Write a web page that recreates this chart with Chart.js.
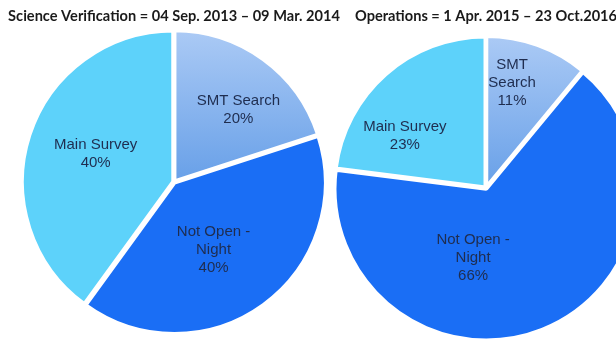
<!DOCTYPE html>
<html>
<head>
<meta charset="utf-8">
<script src="https://cdn.jsdelivr.net/npm/chart.js@4/dist/chart.umd.min.js"></script>
<style>
  html, body { margin: 0; padding: 0; background: #fff; }
  body { width: 616px; height: 341px; overflow: hidden; position: relative; }
  .pie { position: absolute; top: 0; width: 340px; height: 370px; }
  #leftWrap { left: 4px; }
  #rightWrap { left: 316px; }
</style>
</head>
<body>
<div class="pie" id="leftWrap"><canvas id="leftPie"></canvas></div>
<div class="pie" id="rightWrap"><canvas id="rightPie"></canvas></div>
<script>
// slices go clockwise from 12 o'clock
const categories = ["SMT Search", "Not Open - Night", "Main Survey"];

const svTitle = "Science Verification = 04 Sep. 2013 \u2013 09 Mar. 2014";
const svValues = [20, 40, 40];
const svLabels = [["SMT Search"], ["Not Open -", "Night"], ["Main Survey"]];

const opsTitle = "Operations = 1 Apr. 2015 \u2013 23 Oct.2016";
const opsValues = [11, 66, 23];
const opsLabels = [["SMT", "Search"], ["Not Open -", "Night"], ["Main Survey"]];

// where each label sits: [fraction along the slice's angle, fraction of radius]
const svLabelPos = [[0.58, 0.64], [0.54, 0.52], [0.51, 0.55]];
const opsLabelPos = [[0.35, 0.72], [0.635, 0.47], [0.31, 0.64]];

const PIE_RADIUS = 151;
const sliceColors = [null, '#1a6ef5', '#5dd2fa'];

// SMT slice gets a light-to-dark vertical fade, from the pie top down to its centre
function sliceFill(context) {
    const i = context.dataIndex;
    if (sliceColors[i]) return sliceColors[i];
    const chart = context.chart;
    const area = chart.chartArea;
    if (!area) return '#8ab4ec';
    const cy = (area.top + area.bottom) / 2;
    const g = chart.ctx.createLinearGradient(0, cy - PIE_RADIUS, 0, cy);
    g.addColorStop(0, '#abcaf5');
    g.addColorStop(1, '#68a0e8');
    return g;
}

const sliceLabels = {
    id: 'sliceLabels',
    afterDatasetsDraw(chart, args, opts) {
        const ctx = chart.ctx;
        const meta = chart.getDatasetMeta(0);
        const data = chart.data.datasets[0].data;
        const total = data.reduce((a, b) => a + b, 0);
        ctx.save();
        ctx.font = '15px "Liberation Sans", Arial, sans-serif';
        ctx.fillStyle = '#1f2d4f';
        ctx.textAlign = 'center';
        ctx.textBaseline = 'middle';
        meta.data.forEach((arc, i) => {
            const lines = opts.lines[i].concat([Math.round(data[i] / total * 100) + '%']);
            const [f, rf] = opts.pos[i];
            const ang = arc.startAngle + f * (arc.endAngle - arc.startAngle);
            const cx = arc.x + Math.cos(ang) * arc.outerRadius * rf;
            const cy = arc.y + Math.sin(ang) * arc.outerRadius * rf;
            const lh = 18;
            lines.forEach((t, k) => {
                ctx.fillText(t, cx, cy + (k - (lines.length - 1) / 2) * lh);
            });
        });
        ctx.restore();
    }
};

function makePie(id, title, values, lines, pos, bottomPad) {
    return new Chart(document.getElementById(id), {
        type: 'pie',
        data: {
            labels: categories,
            datasets: [{
                data: values,
                backgroundColor: sliceFill,
                borderColor: '#ffffff',
                borderWidth: 4,
                offset: 3,
                radius: PIE_RADIUS
            }]
        },
        options: {
            responsive: true,
            maintainAspectRatio: false,
            animation: false,
            layout: { padding: { bottom: bottomPad } },
            plugins: {
                legend: { display: false },
                tooltip: { enabled: false },
                title: {
                    display: true,
                    text: title,
                    color: '#1a1a1a',
                    font: { family: 'Lato, "Open Sans", sans-serif', size: 14.6, weight: 'bold', lineHeight: 1.15 },
                    padding: { top: 8, bottom: 4 }
                },
                sliceLabels: { lines: lines, pos: pos }
            }
        },
        plugins: [sliceLabels]
    });
}

makePie('leftPie', svTitle, svValues, svLabels, svLabelPos, 34.8);
makePie('rightPie', opsTitle, opsValues, opsLabels, opsLabelPos, 22.8);
</script>
</body>
</html>
